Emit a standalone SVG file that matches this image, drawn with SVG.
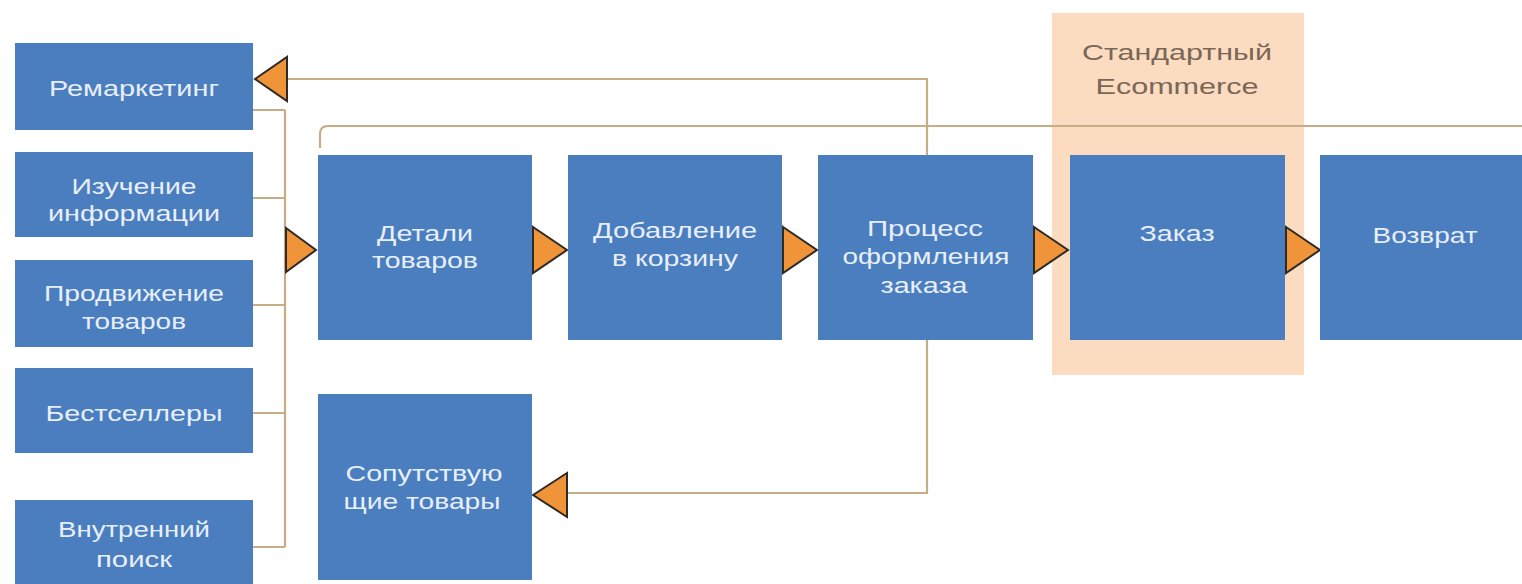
<svg xmlns="http://www.w3.org/2000/svg" width="1522" height="584" viewBox="0 0 1522 584">
<style>
.box{fill:#4a7ebf}
.t{font-family:"Liberation Sans",Arial,sans-serif;font-size:22px;fill:#e8effa;text-anchor:middle}
.h{font-family:"Liberation Sans",Arial,sans-serif;font-size:22px;fill:#7a6656;text-anchor:middle}
.ln{fill:none;stroke:#c6ad86;stroke-width:2.2}
.ar{fill:#f0943a;stroke:#2e2a26;stroke-width:2;stroke-linejoin:miter}
</style>
<rect width="1522" height="584" fill="#ffffff"/>
<g id="highlight">
<rect x="1052" y="13" width="252" height="362" fill="#fbdcc0"/>
<text class="h" x="1177" y="60" textLength="190" lengthAdjust="spacingAndGlyphs">Стандартный</text>
<text class="h" x="1177" y="94" textLength="163" lengthAdjust="spacingAndGlyphs">Ecommerce</text>
</g>
<g id="connectors">
<path class="ln" d="M287 79 H927 V155"/>
<path class="ln" d="M320 148 V134 Q320 126 328 126 H1522"/>
<path class="ln" d="M927 340 V493 H567"/>
<path class="ln" d="M253 110 H285 M253 198 H285 M253 305 H285 M253 413 H285 M253 547 H285 M285 110 V547"/>
<polygon class="ar" points="255,79 287,57 287,101"/>
<polygon class="ar" points="286,228 316,250 286,272"/>
<polygon class="ar" points="533,227 567,250 533,273"/>
<polygon class="ar" points="783,227 817,250 783,273"/>
<polygon class="ar" points="1034,227 1068,250 1034,273"/>
<polygon class="ar" points="1286,227 1320,250 1286,273"/>
<polygon class="ar" points="533,495 567,473 567,517"/>
</g>
<g id="n-remarketing">
<rect class="box" x="15" y="43" width="238" height="87"/>
<text class="t" x="134" y="96" textLength="170" lengthAdjust="spacingAndGlyphs">Ремаркетинг</text>
</g>
<g id="n-info">
<rect class="box" x="15" y="152" width="238" height="85"/>
<text class="t" x="134" y="194" textLength="125" lengthAdjust="spacingAndGlyphs">Изучение</text>
<text class="t" x="134" y="221" textLength="172" lengthAdjust="spacingAndGlyphs">информации</text>
</g>
<g id="n-promo">
<rect class="box" x="15" y="260" width="238" height="87"/>
<text class="t" x="134" y="301" textLength="180" lengthAdjust="spacingAndGlyphs">Продвижение</text>
<text class="t" x="134" y="329" textLength="104" lengthAdjust="spacingAndGlyphs">товаров</text>
</g>
<g id="n-best">
<rect class="box" x="15" y="368" width="238" height="85"/>
<text class="t" x="134" y="421" textLength="177" lengthAdjust="spacingAndGlyphs">Бестселлеры</text>
</g>
<g id="n-search">
<rect class="box" x="15" y="500" width="238" height="90"/>
<text class="t" x="134" y="537" textLength="152" lengthAdjust="spacingAndGlyphs">Внутренний</text>
<text class="t" x="134" y="567" textLength="76" lengthAdjust="spacingAndGlyphs">поиск</text>
</g>
<g id="n-details">
<rect class="box" x="318" y="155" width="214" height="185"/>
<text class="t" x="425" y="241" textLength="96" lengthAdjust="spacingAndGlyphs">Детали</text>
<text class="t" x="425" y="268" textLength="106" lengthAdjust="spacingAndGlyphs">товаров</text>
</g>
<g id="n-cart">
<rect class="box" x="568" y="155" width="214" height="185"/>
<text class="t" x="675" y="238" textLength="164" lengthAdjust="spacingAndGlyphs">Добавление</text>
<text class="t" x="675" y="266" textLength="126" lengthAdjust="spacingAndGlyphs">в корзину</text>
</g>
<g id="n-checkout">
<rect class="box" x="818" y="155" width="215" height="185"/>
<text class="t" x="925" y="236" textLength="116" lengthAdjust="spacingAndGlyphs">Процесс</text>
<text class="t" x="926" y="264" textLength="167" lengthAdjust="spacingAndGlyphs">оформления</text>
<text class="t" x="924" y="293" textLength="87" lengthAdjust="spacingAndGlyphs">заказа</text>
</g>
<g id="n-order">
<rect class="box" x="1070" y="155" width="215" height="185"/>
<text class="t" x="1177" y="241" textLength="75" lengthAdjust="spacingAndGlyphs">Заказ</text>
</g>
<g id="n-return">
<rect class="box" x="1320" y="155" width="210" height="185"/>
<text class="t" x="1425" y="243" textLength="105" lengthAdjust="spacingAndGlyphs">Возврат</text>
</g>
<g id="n-related">
<rect class="box" x="318" y="394" width="214" height="186"/>
<text class="t" x="424" y="481" textLength="157" lengthAdjust="spacingAndGlyphs">Сопутствую</text>
<text class="t" x="422" y="509" textLength="157" lengthAdjust="spacingAndGlyphs">щие товары</text>
</g>
</svg>
